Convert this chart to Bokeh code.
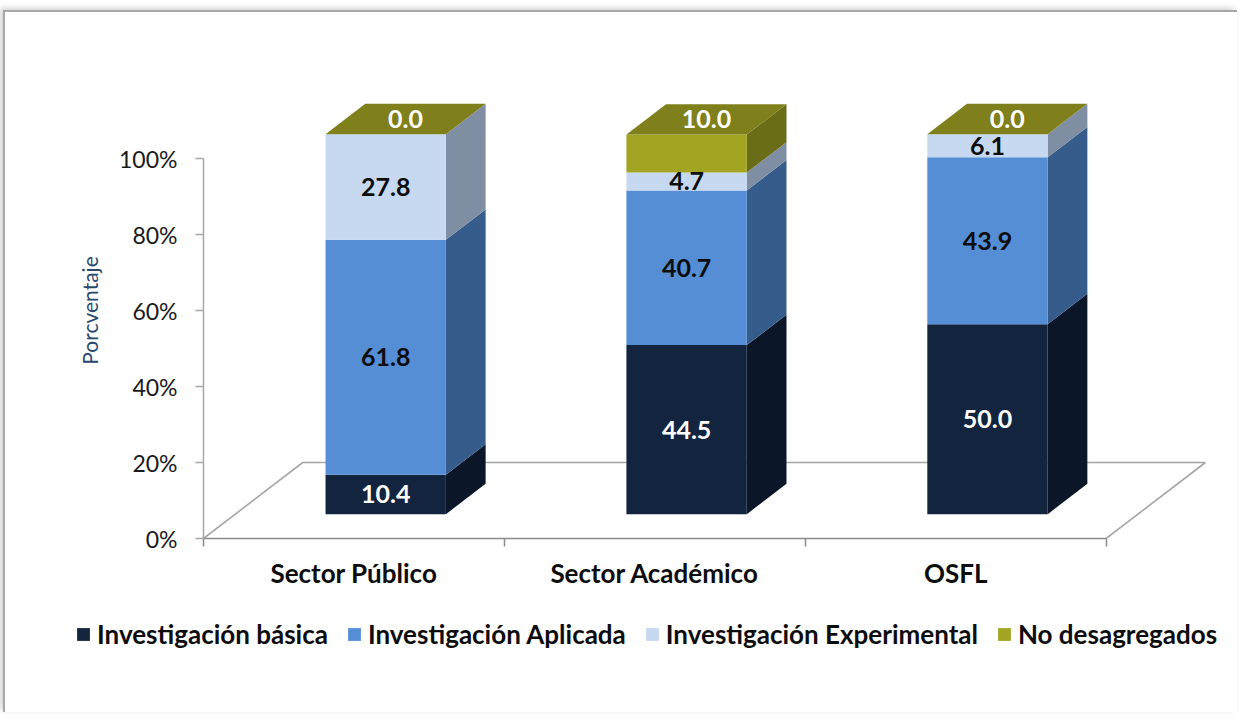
from bokeh.plotting import figure
from bokeh.layouts import column
from bokeh.models import (Range1d, LinearAxis, FixedTicker, PrintfTickFormatter,
                          Legend, LegendItem, ColumnDataSource)
from bokeh.embed import file_html
from bokeh.resources import INLINE
from bokeh.core.properties import value

# ---------------- data ----------------
categories = ["Sector Público", "Sector Académico", "OSFL"]
series_names = ["Investigación básica", "Investigación Aplicada",
                "Investigación Experimental", "No desagregados"]
basica = [10.4, 44.5, 50.0]
aplicada = [61.8, 40.7, 43.9]
experimental = [27.8, 4.7, 6.1]
no_desagregados = [0.0, 10.0, 0.0]
y_ticks = [0, 20, 40, 60, 80, 100]
y_label = "Porcventaje"

# ---------------- style ----------------
front_colors = ["#13243F", "#558ED5", "#C6D9F1", "#A2A521"]
side_colors = ["#0B1628", "#365C8B", "#7F8EA3", "#6B6C17"]
top_color = "#7F801B"
label_colors = ["#FFFFFF", "#0D0D0D", "#0D0D0D", "#FFFFFF"]
FONT = "Lato"
DX, DY = 0.33, 20.0      # floor depth vector (x units, % units)
F0, F1 = 0.32, 0.72      # bar front / back as fraction of floor depth
BAR_W = 0.4
GRID = "#A6A6A6"

values = [basica, aplicada, experimental, no_desagregados]
n_cat = len(categories)

p = figure(width=1232, height=590, output_backend="svg", toolbar_location=None,
           x_range=Range1d(-0.5, 2.9), y_range=Range1d(0, 120),
           x_axis_type=None, y_axis_type=None,
           min_border_left=198, min_border_right=11,
           min_border_top=70, min_border_bottom=64)
p.frame_align = False
p.outline_line_color = None
p.background_fill_color = "white"
p.border_fill_color = "white"

# ---------------- floor (3D base outline) ----------------
x0, x1 = -0.5, n_cat - 0.5
p.line([x0, x0 + DX, x1 + DX, x1], [0, DY, DY, 0], line_color=GRID, line_width=1.6)

# ---------------- 3D stacked bars ----------------
ox0, oy0 = F0 * DX, F0 * DY
ddx, ddy = (F1 - F0) * DX, (F1 - F0) * DY

lab_x, lab_y, lab_t, lab_c = [], [], [], []
totals = [0.0] * n_cat
for s, vals in enumerate(values):
    fxs, fys, sxs, sys_ = [], [], [], []
    for i, v in enumerate(vals):
        b = totals[i]
        t = b + v
        xl = i - BAR_W / 2 + ox0
        xr = i + BAR_W / 2 + ox0
        fxs.append([xl, xr, xr, xl])
        fys.append([b + oy0, b + oy0, t + oy0, t + oy0])
        sxs.append([xr, xr + ddx, xr + ddx, xr])
        sys_.append([b + oy0, b + oy0 + ddy, t + oy0 + ddy, t + oy0])
        totals[i] = t
        if s < len(values) - 1:
            lab_x.append(i + ox0)
            lab_y.append((b + t) / 2 + oy0)
        else:
            lab_x.append(i + ox0 + ddx / 2)
            lab_y.append(t + oy0 + ddy / 2)
        lab_t.append(f"{v:.1f}")
        lab_c.append(label_colors[s])
    p.patches(sxs, sys_, fill_color=side_colors[s], line_color=None)
    p.patches(fxs, fys, fill_color=front_colors[s], line_color=None)

# top faces
txs, tys = [], []
for i in range(n_cat):
    xl = i - BAR_W / 2 + ox0
    xr = i + BAR_W / 2 + ox0
    T = totals[i]
    txs.append([xl, xr, xr + ddx, xl + ddx])
    tys.append([T + oy0, T + oy0, T + oy0 + ddy, T + oy0 + ddy])
p.patches(txs, tys, fill_color=top_color, line_color=None)

src = ColumnDataSource(dict(x=lab_x, y=lab_y, t=lab_t, c=lab_c))
p.text("x", "y", text="t", source=src, text_color="c", text_align="center",
       text_baseline="middle", text_font=value(FONT), text_font_style="bold",
       text_font_size="25px")

# ---------------- axes ----------------
yaxis = LinearAxis(bounds=(0, 100), ticker=FixedTicker(ticks=y_ticks),
                   formatter=PrintfTickFormatter(format="%d%%"))
yaxis.axis_label = y_label
yaxis.axis_label_text_font = FONT
yaxis.axis_label_text_font_size = "21px"
yaxis.axis_label_text_font_style = "normal"
yaxis.axis_label_text_color = "#27476E"
yaxis.axis_label_standoff = 14
yaxis.major_label_text_font = FONT
yaxis.major_label_text_font_size = "23px"
yaxis.major_label_text_color = "#1A1A1A"
yaxis.major_label_standoff = 18
yaxis.major_tick_out = 8
yaxis.major_tick_in = 0
yaxis.minor_tick_line_color = None
yaxis.axis_line_color = GRID
yaxis.axis_line_width = 1.5
yaxis.major_tick_line_color = GRID
yaxis.major_tick_line_width = 1.5
p.add_layout(yaxis, "left")

xaxis = LinearAxis(bounds=(x0, x1),
                   ticker=FixedTicker(ticks=list(range(n_cat)),
                                      minor_ticks=[k - 0.5 for k in range(n_cat + 1)]))
xaxis.major_label_overrides = {i: c for i, c in enumerate(categories)}
xaxis.major_label_text_font = FONT
xaxis.major_label_text_font_size = "26px"
xaxis.major_label_text_font_style = "bold"
xaxis.major_label_text_color = "#0D0D0D"
xaxis.major_label_standoff = 10
xaxis.major_tick_out = 8
xaxis.major_tick_in = 0
xaxis.major_tick_line_color = None
xaxis.minor_tick_in = 0
xaxis.minor_tick_out = 8
xaxis.minor_tick_line_color = "#8C8C8C"
xaxis.minor_tick_line_width = 1.5
xaxis.axis_line_color = "#8C8C8C"
xaxis.axis_line_width = 1.5
p.add_layout(xaxis, "below")

# ---------------- legend strip ----------------
pl = figure(width=1232, height=110, output_backend="svg", toolbar_location=None,
            x_range=Range1d(0, 1), y_range=Range1d(0, 1),
            x_axis_type=None, y_axis_type=None,
            min_border_left=0, min_border_right=0, min_border_top=0, min_border_bottom=0)
pl.frame_align = False
pl.outline_line_color = None
items = []
for s, name in enumerate(series_names):
    rr = pl.patches(xs="xs", ys="ys", source=ColumnDataSource(dict(xs=[[]], ys=[[]])),
                    fill_color=front_colors[s], line_color=None)
    items.append(LegendItem(label=name, renderers=[rr]))
legend = Legend(items=items, orientation="horizontal", location=(70, 62),
                glyph_width=16, glyph_height=16, label_standoff=6, spacing=18,
                padding=0, margin=0, border_line_color=None,
                background_fill_alpha=0,
                label_text_font=FONT, label_text_font_size="26px",
                label_text_font_style="bold", label_text_color="#0D0D0D")
pl.add_layout(legend)

layout = column(p, pl, spacing=0)
layout.margin = (10, 0, 0, 3)
layout.styles = {"border-top": "2px solid #A8A8A8", "border-left": "2px solid #A8A8A8",
                 "box-shadow": "-3px -2px 6px rgba(0,0,0,0.18)"}

open("out.html", "w").write(file_html(layout, INLINE))
